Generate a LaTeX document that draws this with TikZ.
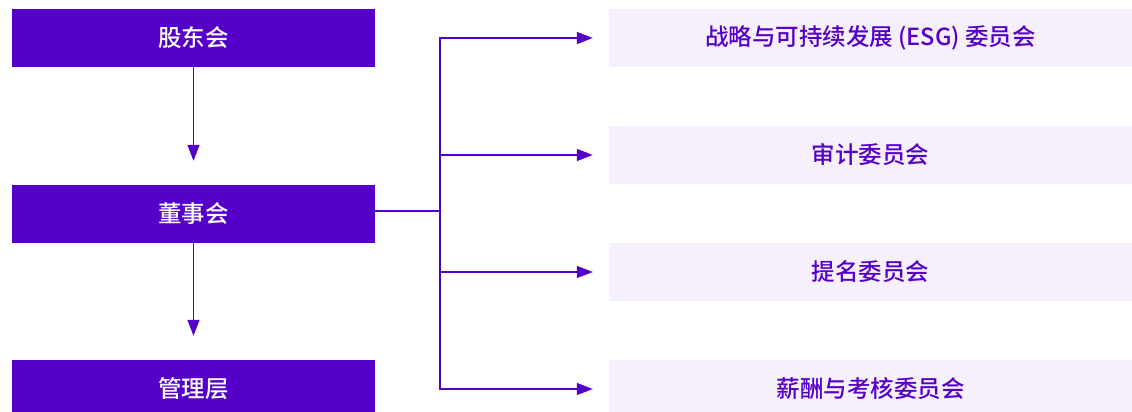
\documentclass[tikz,border=0pt]{standalone}
\usepackage{fontspec}
\usetikzlibrary{arrows.meta}
\newfontfamily\cjk{Noto Sans CJK SC Medium}
\definecolor{govpurple}{HTML}{5500C8}
\definecolor{govlight}{HTML}{F5F0FC}

\begin{document}
\begin{tikzpicture}[x=1pt, y=1pt,
    mainbox/.style={fill=govpurple, text=white, minimum width=363pt, minimum height=58pt,
        inner sep=0pt, font=\cjk\fontsize{23.5}{27}\selectfont},
    combox/.style={fill=govlight, text=govpurple, minimum width=523pt, minimum height=58pt,
        inner sep=0pt, font=\cjk\fontsize{23.5}{27}\selectfont},
    link/.style={draw=govpurple, line width=1.3pt},
    arr/.style={link, -{Triangle[length=16pt, width=12pt]}}]
    \useasboundingbox (0,0) rectangle (1132,412);

    % left column
    \node[mainbox] (gm) at (193.5,374) {股东会};
    \node[mainbox] (bd) at (193.5,198) {董事会};
    \node[mainbox] (mg) at (193.5,23) {管理层};

    % committees
    \node[combox] (esg) at (870.5,374) {战略与可持续发展 (ESG) 委员会};
    \node[combox] (aud) at (870.5,257) {审计委员会};
    \node[combox] (nom) at (870.5,140) {提名委员会};
    \node[combox] (rem) at (870.5,23) {薪酬与考核委员会};

    \draw[arr, shorten >=24pt] (gm) -- (bd);
    \draw[arr, shorten >=24pt] (bd) -- (mg);

    \coordinate (j) at (440,201);
    \draw[link] ([yshift=3pt]bd.east) -- (j);
    \draw[arr, shorten >=16pt] (j) |- (esg.west);
    \draw[arr, shorten >=16pt] (j |- aud.west) -- (aud.west);
    \draw[arr, shorten >=16pt] (j |- nom.west) -- (nom.west);
    \draw[arr, shorten >=16pt] (j) |- (rem.west);
\end{tikzpicture}
\end{document}
